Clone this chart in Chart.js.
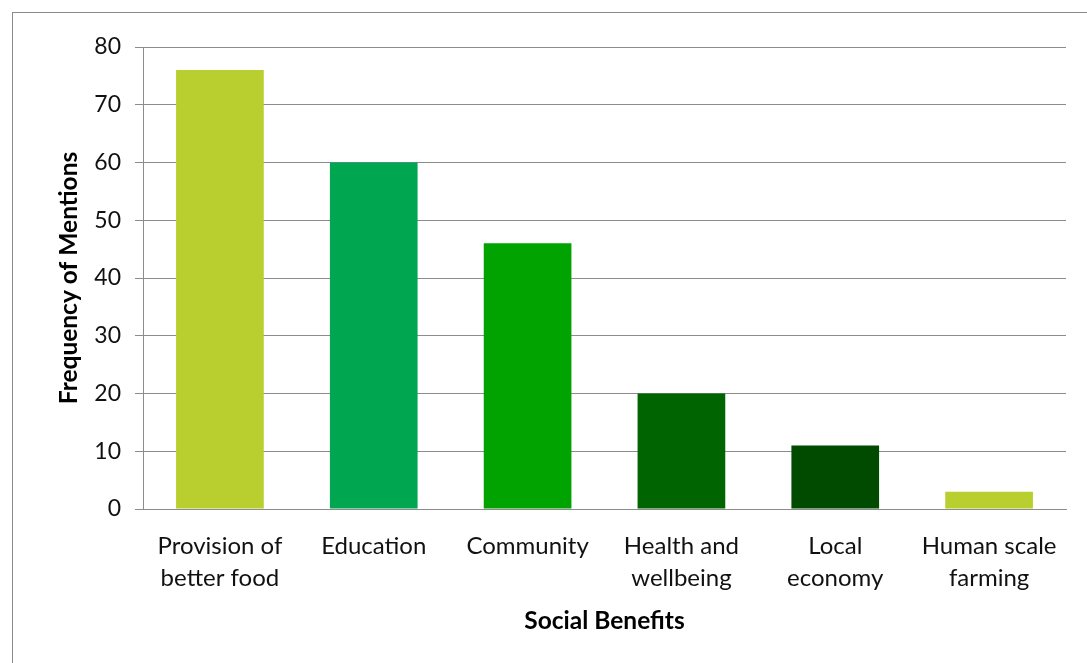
<!DOCTYPE html>
<html>
<head>
<meta charset="utf-8">
<title>Social Benefits</title>
<script src="https://cdn.jsdelivr.net/npm/chart.js@4.4.1/dist/chart.umd.min.js"></script>
<style>
  html, body { margin: 0; padding: 0; background: #fff; overflow: hidden; }
  #wrap { width: 1087px; height: 663px; }
</style>
</head>
<body>
<div id="wrap"><canvas id="benefitsChart" width="1087" height="663"></canvas></div>
<script>
// Social benefits and how often each was mentioned
const categories = [
    ['Provision of', 'better food'],
    'Education',
    'Community',
    ['Health and', 'wellbeing'],
    ['Local', 'economy'],
    ['Human scale', 'farming']
];
const mentions = [76, 60, 46, 20, 11, 3];
const barColours = ['#b9cf2f', '#00a650', '#00a300', '#006400', '#004b00', '#b9cf2f'];
const yMax = 80;
const yStep = 10;

const FONT = 'Lato, "Open Sans", sans-serif';
const LINE = '#8c8c8c';

// Thin grey frame round the whole figure
const framePlugin = {
    id: 'frame',
    beforeDraw(chart) {
        const c = chart.ctx;
        c.save();
        c.fillStyle = '#fff';
        c.fillRect(0, 0, chart.width, chart.height);
        c.strokeStyle = '#8a8a8a';
        c.lineWidth = 1;
        c.strokeRect(12.5, 12.5, chart.width, chart.height);
        c.restore();
    }
};

const ctx = document.getElementById('benefitsChart').getContext('2d');

new Chart(ctx, {
    type: 'bar',
    data: {
        labels: categories,
        datasets: [{
            data: mentions,
            backgroundColor: barColours,
            borderWidth: 0,
            barPercentage: 0.57,
            categoryPercentage: 1
        }]
    },
    options: {
        responsive: false,
        animation: false,
        layout: { padding: { left: 54, top: 47, right: 21, bottom: 27 } },
        plugins: {
            legend: { display: false },
            tooltip: { enabled: false }
        },
        scales: {
            x: {
                grid: { display: false },
                border: { display: true, color: LINE, width: 1 },
                ticks: {
                    color: '#111',
                    font: { family: FONT, size: 24, lineHeight: 1.333 },
                    padding: 13,
                    maxRotation: 0,
                    autoSkip: false
                },
                title: {
                    display: true,
                    text: 'Social Benefits',
                    color: '#000',
                    font: { family: FONT, size: 24.5, weight: 'bold' },
                    padding: 0
                },
                afterFit(scale) { scale.height = 127; }
            },
            y: {
                min: 0,
                max: yMax,
                grid: { color: LINE, lineWidth: 1, drawTicks: true, tickLength: 8, tickColor: LINE },
                border: { display: true, color: LINE, width: 1 },
                ticks: {
                    stepSize: yStep,
                    color: '#111',
                    font: { family: FONT, size: 23 },
                    padding: 14
                },
                title: {
                    display: true,
                    text: 'Frequency of Mentions',
                    color: '#000',
                    font: { family: FONT, size: 24.5, weight: 'bold' },
                    padding: 0
                },
                afterFit(scale) { scale.width = 89; }
            }
        }
    },
    plugins: [framePlugin]
});
</script>
</body>
</html>
